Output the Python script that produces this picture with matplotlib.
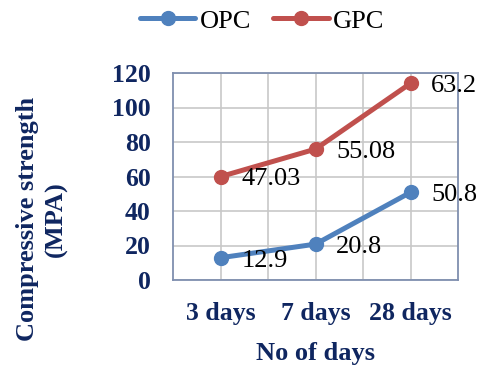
import matplotlib
matplotlib.use("Agg")
import matplotlib.pyplot as plt
import numpy as np

categories = ["3 days", "7 days", "28 days"]
opc = [12.9, 20.8, 50.8]
gpc = [47.03, 55.08, 63.2]
series_names = ["OPC", "GPC"]
yticks = [0, 20, 40, 60, 80, 100, 120]

plt.rcParams['font.family'] = ['Liberation Serif', 'DejaVu Serif']
navy = '#0F2660'
blue = '#4F81BD'
red = '#C0504D'

fig = plt.figure(figsize=(4.86, 3.67), dpi=100)
ax = fig.add_axes([173/486, 1-280/367, (458-173)/486, (280-73)/367])

x = np.arange(len(categories))
opc_arr = np.array(opc)
gpc_stack = opc_arr + np.array(gpc)  # stacked line chart

ax.plot(x, opc_arr, color=blue, lw=3.6, marker='o', ms=10, label=series_names[0],
        solid_capstyle='round', zorder=3)
ax.plot(x, gpc_stack, color=red, lw=3.6, marker='o', ms=10, label=series_names[1],
        solid_capstyle='round', zorder=3)

for xi, yi, v in zip(x, opc_arr, opc):
    ax.annotate(f"{v:g}", (xi, yi), xytext=(15, -2), textcoords='offset points',
                ha='left', va='center', fontsize=19, color='black', zorder=5,
                annotation_clip=False)
for xi, yi, v in zip(x, gpc_stack, gpc):
    ax.annotate(f"{v:g}", (xi, yi), xytext=(15, -2), textcoords='offset points',
                ha='left', va='center', fontsize=19, color='black', zorder=5,
                annotation_clip=False)

ax.set_xlim(-0.5, 2.5)
ax.set_ylim(0, 120)
ax.set_yticks(yticks)
ax.set_xticks(x)
ax.set_xticklabels(categories)
ax.set_xticks([0.5, 1.5], minor=True)
ax.grid(True, which='both', color='#C8C8C8', lw=1.2, zorder=0)
ax.tick_params(axis='both', which='both', length=0)
ax.tick_params(axis='y', pad=16, labelsize=18.5, labelcolor=navy)
ax.tick_params(axis='x', pad=16, labelsize=18.5, labelcolor=navy)
for lbl in ax.get_xticklabels() + ax.get_yticklabels():
    lbl.set_fontweight('bold')
for sp in ax.spines.values():
    sp.set_color('#7F8FAF')
    sp.set_linewidth(1.3)

ax.set_xlabel("No of days", fontsize=19, fontweight='bold', color=navy, labelpad=12)
fig.text(42/486, 1-219/367, "Compressive strength\n(MPA)", rotation=90, ha='center',
         va='center', fontsize=19, fontweight='bold', color=navy,
         multialignment='center', linespacing=1.35)

fig.legend(loc='center', bbox_to_anchor=(262/486, 1-21/367), ncol=2, frameon=False,
           fontsize=19, handlelength=2.1, handletextpad=0.15, columnspacing=0.85,
           borderaxespad=0, borderpad=0)

fig.savefig("out.png", dpi=100)
